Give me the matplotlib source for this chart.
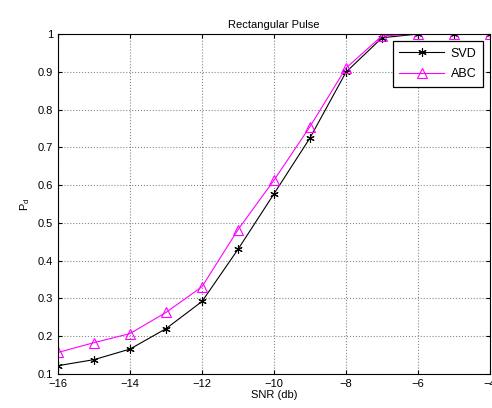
import numpy as np
import matplotlib
matplotlib.use('Agg')
import matplotlib.pyplot as plt

snr = [-16, -15, -14, -13, -12, -11, -10, -9, -8, -7, -6, -5, -4]
pd_svd = [0.122, 0.138, 0.166, 0.220, 0.292, 0.430, 0.577, 0.725, 0.899, 0.990, 1.0, 1.0, 1.0]
pd_abc = [0.157, 0.183, 0.207, 0.263, 0.331, 0.482, 0.613, 0.755, 0.910, 0.995, 1.0, 1.0, 1.0]

plt.rcParams['font.family'] = 'Liberation Sans'
fig = plt.figure(figsize=(4.92, 4.08), dpi=100)
ax = fig.add_axes([58/492, 34/408, 432/492, 340/408])
ax.plot(snr, pd_svd, color='black', linewidth=0.8, marker=(6, 2, 0), markersize=6, markeredgewidth=0.8, label='SVD')
ax.plot(snr, pd_abc, color='magenta', linewidth=0.8, marker='^', markersize=7, markerfacecolor='none', markeredgewidth=0.8, label='ABC')
ax.set_xlim(-16, -4)
ax.set_ylim(0.1, 1)
ax.set_xticks(np.arange(-16, -3, 2))
ax.set_yticks(np.arange(0.1, 1.01, 0.1))
ax.set_yticklabels(['0.1', '0.2', '0.3', '0.4', '0.5', '0.6', '0.7', '0.8', '0.9', '1'])
ax.tick_params(labelsize=8, direction='in', top=True, right=True, length=3)
ax.grid(True, color='#888888', linestyle=':', linewidth=0.8)
ax.set_xlabel('SNR (db)', fontsize=8, labelpad=1)
ax.set_ylabel('P$_{\\mathregular{d}}$', fontsize=8, labelpad=4)
ax.set_title('Rectangular Pulse', fontsize=8, pad=4)
leg = ax.legend(loc='upper right', fontsize=9, fancybox=False, framealpha=1, edgecolor='black',
                borderaxespad=0.6, handlelength=3.6, borderpad=0.5, labelspacing=0.7, handletextpad=0.5)
leg.get_frame().set_linewidth(0.9)
fig.savefig('out.png', dpi=100)
